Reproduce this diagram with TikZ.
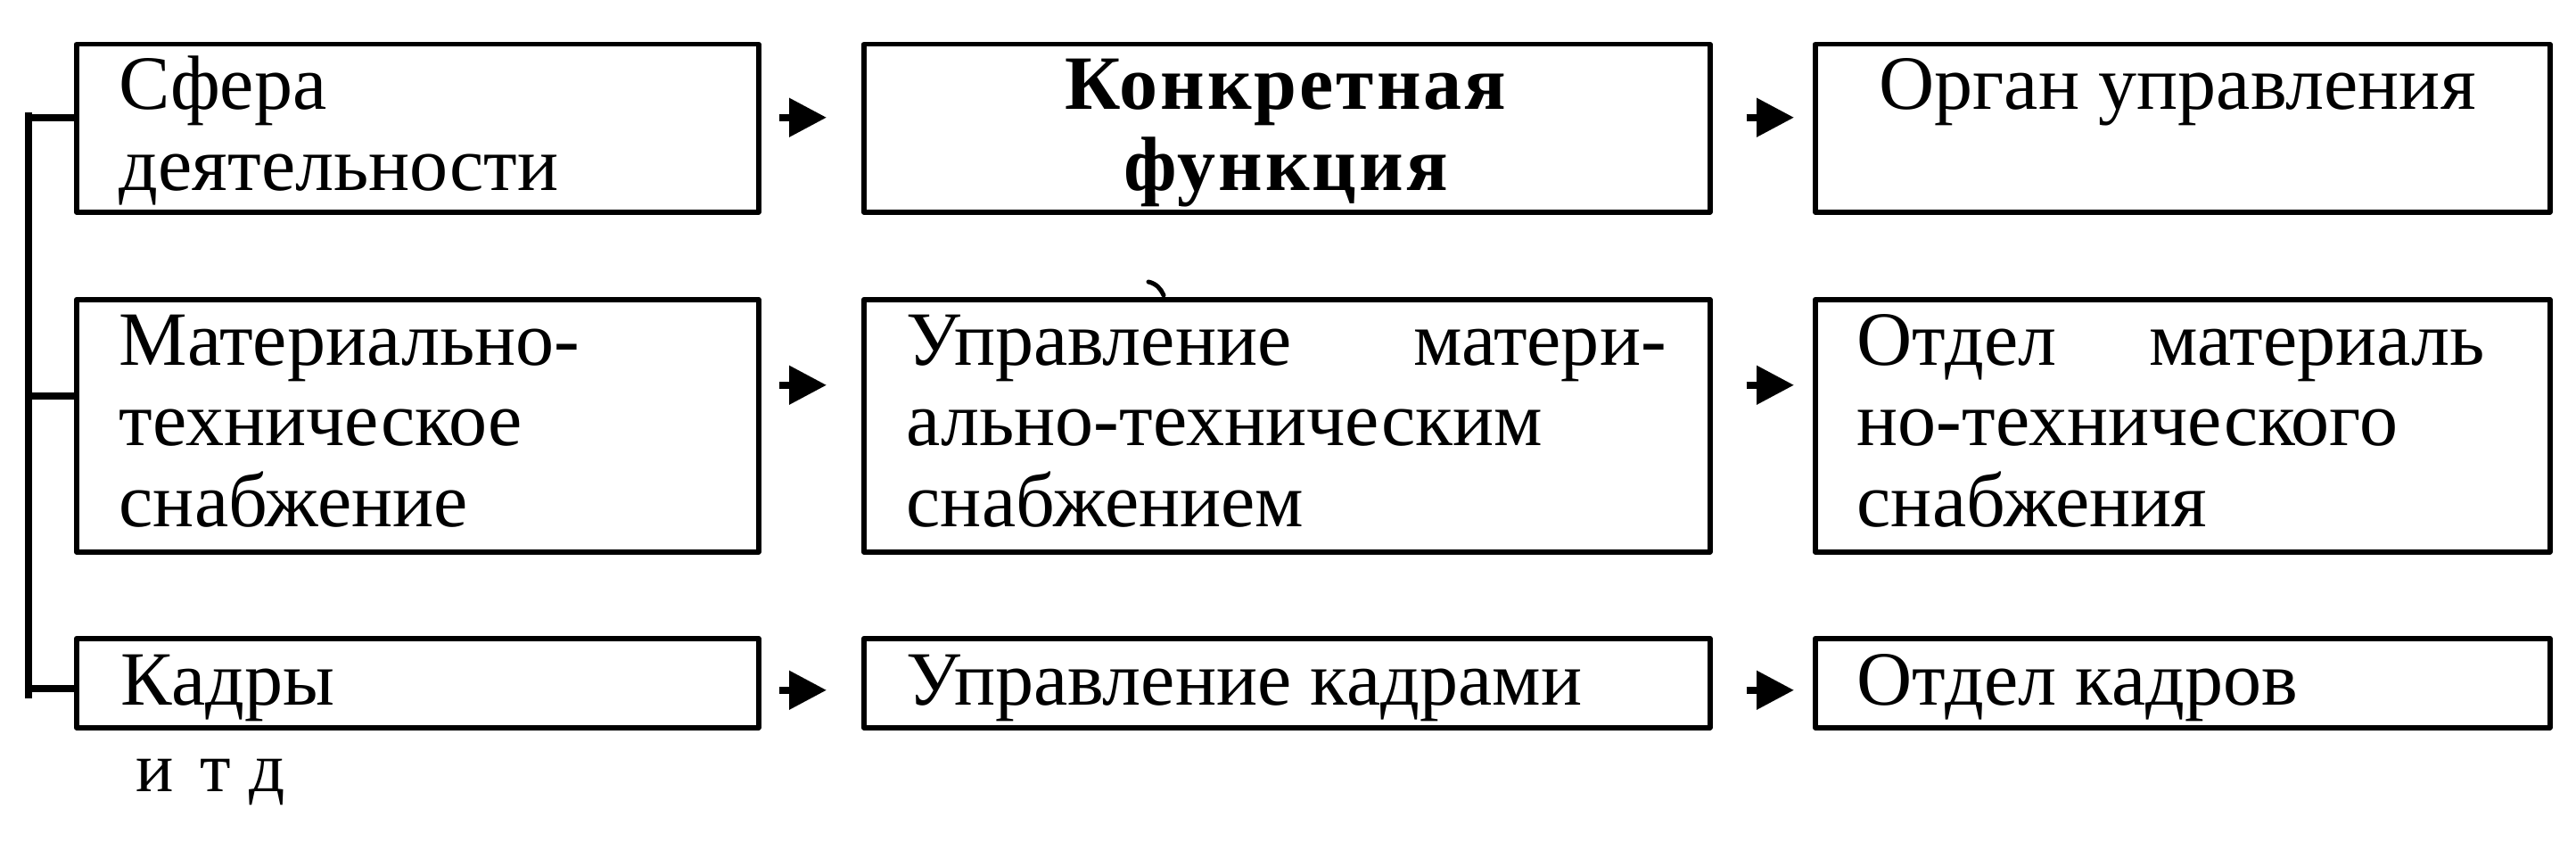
\documentclass[tikz,border=0pt]{standalone}
\usepackage{fontspec}
\setmainfont{Liberation Serif}
\usetikzlibrary{arrows.meta}

\begin{document}
\begin{tikzpicture}[line join=round,
	box/.style={draw,line width=0.055cm,anchor=north west,inner sep=0pt},
	txt/.style={inner sep=0pt,anchor=base west,align=left,font=\fontsize{24.5}{25.8}\selectfont},
	lnk/.style={line width=0.08cm,-{Triangle[length=0.42cm,width=0.42cm]}},
	br/.style={line width=0.08cm}]
	\useasboundingbox (0,0) rectangle (28.89,-9.44);
	% boxes
	\node[box,minimum width=7.65cm,minimum height=1.88cm] (sfera) at (0.83,-0.47) {};
	\node[box,minimum width=9.49cm,minimum height=1.88cm] (funk) at (9.66,-0.47) {};
	\node[box,minimum width=8.24cm,minimum height=1.88cm] (organ) at (20.33,-0.47) {};
	\node[box,minimum width=7.65cm,minimum height=2.83cm] (mts) at (0.83,-3.33) {};
	\node[box,minimum width=9.49cm,minimum height=2.83cm] (umts) at (9.66,-3.33) {};
	\node[box,minimum width=8.24cm,minimum height=2.83cm] (omts) at (20.33,-3.33) {};
	\node[box,minimum width=7.65cm,minimum height=1.00cm] (kadry) at (0.83,-7.13) {};
	\node[box,minimum width=9.49cm,minimum height=1.00cm] (ukadr) at (9.66,-7.13) {};
	\node[box,minimum width=8.24cm,minimum height=1.00cm] (okadr) at (20.33,-7.13) {};
	% texts
	\node[txt,text width=7cm] (sferaT) at (1.33,-1.23) {Сфера\\деятельности};
	\node[txt,text width=9cm,anchor=base,align=center,font=\fontsize{24.5}{25.8}\selectfont\bfseries\addfontfeature{LetterSpace=3.5}] (funkT) at (14.42,-1.23) {Конкретная\\функция};
	\node[txt,anchor=base] (organT) at (24.42,-1.23) {Орган управления};
	\node[txt,text width=7cm] (mtsT) at (1.33,-4.09) {Материально-\\техническое\\снабжение};
	\node[txt,text width=8.52cm] (umtsT) at (10.16,-4.09) {Управление\hfill матери-\\ально-техническим\\снабжением};
	\node[txt,text width=7.04cm] (omtsT) at (20.82,-4.09) {Отдел\hfill материаль\\но-технического\\снабжения};
	\node[txt] (kadryT) at (1.35,-7.90) {Кадры};
	\node[txt] (ukadrT) at (10.16,-7.90) {Управление кадрами};
	\node[txt] (okadrT) at (20.82,-7.90) {Отдел кадров};
	\node[txt,font=\fontsize{22.5}{24}\selectfont] (itd) at (1.52,-8.87) {и\hspace{0.3cm}т\hspace{0.2cm}д};
	% bracket
	\coordinate (brTop) at (0.32,-1.26);
	\coordinate (brBot) at (0.32,-7.83);
	\draw[br] (brTop) -- (brBot);
	\draw[br] ([yshift=0.12cm]sfera.west) -- ++(-0.51,0);
	\draw[br] ([yshift=0.335cm]mts.west) -- ++(-0.51,0);
	\draw[br] ([yshift=-0.06cm]kadry.west) -- ++(-0.51,0);
	% arrows
	\draw[lnk,shorten <=0.2cm,shorten >=0.39cm] ([yshift=0.12cm]sfera.east) -- ([yshift=0.12cm]funk.west);
	\draw[lnk,shorten <=0.2cm,shorten >=0.39cm] ([yshift=0.455cm]mts.east) -- ([yshift=0.455cm]umts.west);
	\draw[lnk,shorten <=0.2cm,shorten >=0.39cm] ([yshift=-0.08cm]kadry.east) -- ([yshift=-0.08cm]ukadr.west);
	\draw[lnk,shorten <=0.38cm,shorten >=0.21cm] ([yshift=0.12cm]funk.east) -- ([yshift=0.12cm]organ.west);
	\draw[lnk,shorten <=0.38cm,shorten >=0.21cm] ([yshift=0.455cm]umts.east) -- ([yshift=0.455cm]omts.west);
	\draw[lnk,shorten <=0.38cm,shorten >=0.21cm] ([yshift=-0.08cm]ukadr.east) -- ([yshift=-0.08cm]okadr.west);
	% mark
	\draw[line width=0.05cm,line cap=round] (12.88,-3.16) .. controls (12.97,-3.18) and (13.02,-3.24) .. (13.05,-3.31);
\end{tikzpicture}
\end{document}
